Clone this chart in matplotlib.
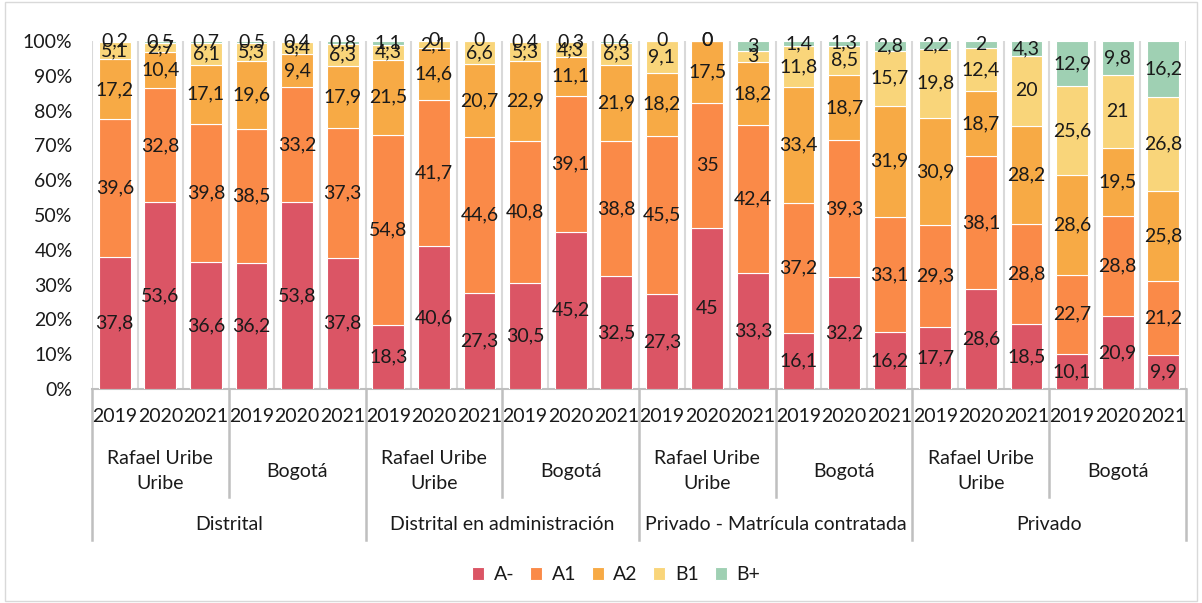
import matplotlib
matplotlib.use("Agg")
import matplotlib.pyplot as plt
import matplotlib.transforms as mtransforms
from matplotlib.patches import Rectangle
import numpy as np

plt.rcParams['font.family'] = ['Lato', 'DejaVu Sans']

years = ["2019", "2020", "2021"]
regions = ["Rafael Uribe\nUribe", "Bogotá"]
types = ["Distrital", "Distrital en administración",
         "Privado - Matrícula contratada", "Privado"]
levels = ["A-", "A1", "A2", "B1", "B+"]
colors = ["#DB5565", "#FA8A48", "#F7AA45", "#F9D57A", "#9FD0B3"]

a_minus = [37.8, 53.6, 36.6, 36.2, 53.8, 37.8,
           18.3, 40.6, 27.3, 30.5, 45.2, 32.5,
           27.3, 45, 33.3, 16.1, 32.2, 16.2,
           17.7, 28.6, 18.5, 10.1, 20.9, 9.9]
a1 = [39.6, 32.8, 39.8, 38.5, 33.2, 37.3,
      54.8, 41.7, 44.6, 40.8, 39.1, 38.8,
      45.5, 35, 42.4, 37.2, 39.3, 33.1,
      29.3, 38.1, 28.8, 22.7, 28.8, 21.2]
a2 = [17.2, 10.4, 17.1, 19.6, 9.4, 17.9,
      21.5, 14.6, 20.7, 22.9, 11.1, 21.9,
      18.2, 17.5, 18.2, 33.4, 18.7, 31.9,
      30.9, 18.7, 28.2, 28.6, 19.5, 25.8]
b1 = [5.1, 2.7, 6.1, 5.3, 3.4, 6.3,
      4.3, 2.1, 6.6, 5.3, 4.3, 6.3,
      9.1, 0, 3, 11.8, 8.5, 15.7,
      19.8, 12.4, 20, 25.6, 21, 26.8]
b_plus = [0.2, 0.5, 0.7, 0.5, 0.4, 0.8,
          1.1, 0, 0, 0.4, 0.3, 0.6,
          0, 0, 3, 1.4, 1.3, 2.8,
          2.2, 2, 4.3, 12.9, 9.8, 16.2]

series = [a_minus, a1, a2, b1, b_plus]
data = np.array(series, dtype=float)
totals = data.sum(axis=0)
pct = data / totals * 100

n = data.shape[1]
x = np.arange(n)

FS = 14
TC = '#1a1a1a'

W, H = 1202, 603
fig = plt.figure(figsize=(W / 100, H / 100), dpi=100)
left, right, top, bottom = 92, 1186, 41, 389
ax = fig.add_axes([left / W, 1 - bottom / H, (right - left) / W, (bottom - top) / H])

def fmt(v):
    if float(v).is_integer():
        return str(int(v))
    return f"{v:.1f}".replace('.', ',')

base = np.zeros(n)
for i, (lvl, col) in enumerate(zip(levels, colors)):
    ax.bar(x, pct[i], bottom=base, width=0.7, color=col, edgecolor='white',
           linewidth=0.8, label=lvl, zorder=3)
    for j in range(n):
        ax.text(x[j], base[j] + pct[i][j] / 2, fmt(data[i][j]), ha='center',
                va='center', fontsize=FS, color=TC, zorder=5)
    base += pct[i]

ax.set_xlim(-0.5, n - 0.5)
ax.set_ylim(0, 100)
ax.set_yticks(np.arange(0, 101, 10))
ax.set_yticklabels([f"{v}%" for v in range(0, 101, 10)], fontsize=FS, color=TC)
ax.tick_params(axis='y', length=0, pad=14)
ax.set_xticks([])
for s in ['top', 'right', 'left']:
    ax.spines[s].set_visible(False)
ax.spines['bottom'].set_color('#BFBFBF')
ax.spines['bottom'].set_linewidth(1.5)

# vertical gridlines between categories
for b in np.arange(-0.5, n, 1.0):
    ax.axvline(b, color='#D9D9D9', linewidth=1.5, zorder=1)

trans = mtransforms.blended_transform_factory(ax.transData, ax.transAxes)
ah = bottom - top

def ay(py):
    return -(py - bottom) / ah

# year labels
for j in range(n):
    ax.text(x[j], ay(416), years[j % 3], transform=trans, ha='center', va='center',
            fontsize=FS, color=TC)
# region labels
for g in range(n // 3):
    cx = g * 3 + 1
    ax.text(cx, ay(471), regions[g % 2], transform=trans, ha='center', va='center',
            fontsize=FS, color=TC, linespacing=1.6)
# type labels
for t in range(n // 6):
    cx = t * 6 + 2.5
    ax.text(cx, ay(525), types[t], transform=trans, ha='center', va='center',
            fontsize=FS, color=TC)

# separators below axis
for g in range(n // 3 + 1):
    xb = g * 3 - 0.5
    yend = ay(540) if g % 2 == 0 else ay(497)
    ax.plot([xb, xb], [0, yend], transform=trans, color='#BFBFBF', linewidth=1.8,
            clip_on=False, zorder=2)

fig.legend(loc='center', bbox_to_anchor=(616 / W, 1 - 575 / H), ncol=5, frameon=False,
           fontsize=FS, handlelength=0.62, handleheight=0.62, columnspacing=0.8,
           handletextpad=0.5, labelcolor=TC)

fig.patches.append(Rectangle((0.004, 0.004), 0.992, 0.992, transform=fig.transFigure,
                             fill=False, edgecolor='#D9D9D9', linewidth=1.0))

fig.savefig("out.png", dpi=100)
